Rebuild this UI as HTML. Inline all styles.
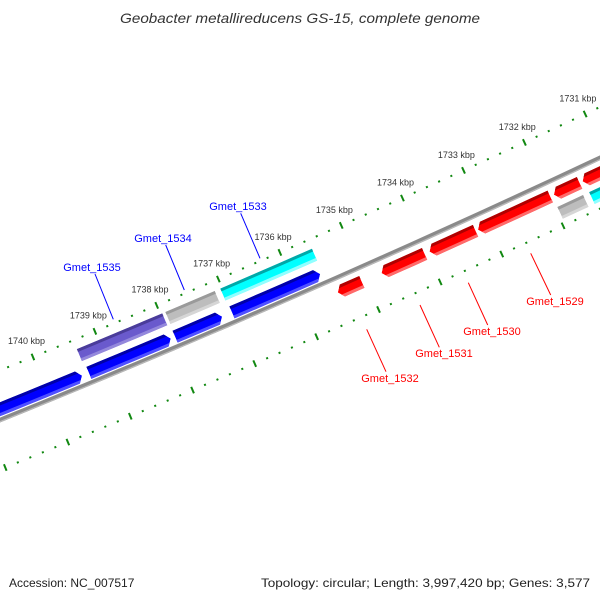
<!DOCTYPE html>
<html>
<head>
<meta charset="utf-8">
<style>
  html,body{margin:0;padding:0;background:#fff;}
  svg{display:block;}
  text{font-family:"Liberation Sans","DejaVu Sans",sans-serif;}
</style>
</head>
<body>
<svg id="map" width="600" height="600" viewBox="0 0 600 600" xmlns="http://www.w3.org/2000/svg">
  <rect x="0" y="0" width="600" height="600" fill="#ffffff"/>
  <defs id="defs"></defs>
  <text x="300" y="23" text-anchor="middle" font-size="14" font-style="italic" fill="#333" textLength="360" lengthAdjust="spacingAndGlyphs">Geobacter metallireducens GS-15, complete genome</text>
  <g id="rulers"></g>
  <g id="backbone"></g>
  <g id="genes"></g>
  <g id="kbplabels"></g>
  <g id="genelabels">
    <line x1="240.7" y1="213.3" x2="260" y2="258.3" stroke="#0000ff" stroke-width="1"/>
    <text x="238" y="210" text-anchor="middle" font-size="11" fill="#0000ff">Gmet_1533</text>
    <line x1="165.7" y1="245" x2="184.3" y2="290" stroke="#0000ff" stroke-width="1"/>
    <text x="163" y="242" text-anchor="middle" font-size="11" fill="#0000ff">Gmet_1534</text>
    <line x1="95" y1="274" x2="113.3" y2="319.3" stroke="#0000ff" stroke-width="1"/>
    <text x="92" y="271" text-anchor="middle" font-size="11" fill="#0000ff">Gmet_1535</text>
    <line x1="530.7" y1="253.3" x2="550.7" y2="295" stroke="#ff0000" stroke-width="1"/>
    <text x="555" y="305" text-anchor="middle" font-size="11" fill="#ff0000">Gmet_1529</text>
    <line x1="468.3" y1="282.7" x2="487.7" y2="325" stroke="#ff0000" stroke-width="1"/>
    <text x="492" y="335" text-anchor="middle" font-size="11" fill="#ff0000">Gmet_1530</text>
    <line x1="420" y1="305" x2="439.3" y2="347.3" stroke="#ff0000" stroke-width="1"/>
    <text x="444" y="357" text-anchor="middle" font-size="11" fill="#ff0000">Gmet_1531</text>
    <line x1="366.7" y1="329.3" x2="386" y2="371.7" stroke="#ff0000" stroke-width="1"/>
    <text x="390" y="382" text-anchor="middle" font-size="11" fill="#ff0000">Gmet_1532</text>
  </g>
  <text x="9" y="587" font-size="12" fill="#222">Accession: NC_007517</text>
  <text x="590" y="587" text-anchor="end" font-size="12" fill="#222" textLength="329" lengthAdjust="spacingAndGlyphs">Topology: circular; Length: 3,997,420 bp; Genes: 3,577</text>
</svg>
<script>
// ---- data ----
var geneStartKbp = [1741.92, 1739.32, 1737.93, 1737.01, 1739.35, 1737.92, 1737.03, 1735.45, 1734.74, 1733.96, 1733.17, 1731.93, 1731.46, 1731.96, 1731.44];
var geneEndKbp   = [1739.43, 1738.00, 1737.17, 1735.58, 1737.97, 1737.12, 1735.54, 1735.06, 1734.04, 1733.21, 1731.99, 1731.51, 1729.73, 1731.54, 1729.73];
var geneRow      = [0, 0, 0, 0, 1, 1, 1, 2, 2, 2, 2, 2, 2, 3, 3];
var geneColor    = ['blue','blue','blue','blue','purple','gray','cyan','red','red','red','red','red','red','gray','cyan'];
var geneArrow    = [1, 1, 1, 1, 0, 0, 0, -1, -1, -1, -1, -1, -1, 0, 0];
var geneNames    = ['gene-a','gene-b','gene-c','gene-d','gmet-1535','gmet-1534','gmet-1533','gmet-1532','gmet-1531','gmet-1530','gmet-1529','gene-e','gene-f','gene-g','gene-h'];
var tickMinKbp = 1729;
var tickMaxKbp = 1743;
var labelKbp = [1731, 1732, 1733, 1734, 1735, 1736, 1737, 1738, 1739, 1740, 1741];

// ---- geometry ----
var NS = 'http://www.w3.org/2000/svg';
var RAD = 12000, CX = 300 - 0.4003 * RAD, CY = 294 - 0.9164 * RAD, PHI0 = Math.atan2(0.9164, 0.4003);
var REF_KBP = 1737, REF_S = -69.1, PX_PER_KBP = 67.3;
var rowD = [-10, -30, 14, 33], GENE_H = 13;
var palette = {
  blue:   ['#0000ff', '#0000a8', '#5050ff'],
  purple: ['#6a5acd', '#4a3c9a', '#9488dc'],
  gray:   ['#bdbdbd', '#9a9a9a', '#d6d6d6'],
  cyan:   ['#00ffff', '#00a8a8', '#90ffff'],
  red:    ['#ff0000', '#b00000', '#ff6a6a']
};
function sOf(k) { return REF_S - (k - REF_KBP) * PX_PER_KBP; }
function pt(s, d) {
  var a = PHI0 - s / RAD;
  return [CX + (RAD + d) * Math.cos(a), CY + (RAD + d) * Math.sin(a)];
}
function P(p) { return p[0].toFixed(2) + ',' + p[1].toFixed(2); }
function edge(s0, s1, d) {
  var out = [], n = Math.max(2, Math.ceil(Math.abs(s1 - s0) / 20));
  for (var i = 0; i <= n; i++) out.push(pt(s0 + (s1 - s0) * i / n, d));
  return out;
}
function el(tag, attrs, parent) {
  var e = document.createElementNS(NS, tag);
  for (var k in attrs) e.setAttribute(k, attrs[k]);
  parent.appendChild(e);
  return e;
}

// ---- rulers ----
var rul = document.getElementById('rulers');
[-46, 46].forEach(function (rd) {
  var nSteps = Math.round((tickMaxKbp - tickMinKbp) / 0.2);
  for (var i = 0; i <= nSteps; i++) {
    var k = tickMinKbp + i * 0.2;
    var s = sOf(k);
    var major = (i % 5 === 0);
    var a = pt(s, rd - (major ? 3.5 : 1)), b = pt(s, rd + (major ? 3.5 : 1));
    var ln = el('line', {x1: a[0], y1: a[1], x2: b[0], y2: b[1], stroke: '#118811', 'stroke-width': 2}, rul);
    
    
  }
});

// ---- kbp labels ----
var kl = document.getElementById('kbplabels');
labelKbp.forEach(function (k) {
  var p = pt(sOf(k), -63);
  var t = el('text', {x: p[0], y: p[1] + 3, 'text-anchor': 'middle', 'font-size': 9, fill: '#333'}, kl);
  t.textContent = k + ' kbp';
  
  
});

// ---- backbone ----
var bb = document.getElementById('backbone');
var b1 = el('polyline', {points: edge(-420, 420, 0).map(P).join(' '), fill: 'none', stroke: '#8a8a8a', 'stroke-width': 4.5}, bb);


var b2 = el('polyline', {points: edge(-420, 420, 1.6).map(P).join(' '), fill: 'none', stroke: '#b8b8b8', 'stroke-width': 1.3}, bb);



// ---- genes ----
var gg = document.getElementById('genes');
var defs = document.getElementById('defs');
for (var gi = 0; gi < geneStartKbp.length; gi++) {
  var sa = sOf(geneStartKbp[gi]), sb = sOf(geneEndKbp[gi]);
  var s0 = Math.min(sa, sb), s1 = Math.max(sa, sb);
  var dc = rowD[geneRow[gi]], dTop = dc - GENE_H / 2, dBot = dc + GENE_H / 2;
  var tip = 5, pts;
  if (geneArrow[gi] === 1) {
    pts = edge(s0, s1 - tip, dTop).concat([pt(s1, dc)]).concat(edge(s1 - tip, s0, dBot));
  } else if (geneArrow[gi] === -1) {
    pts = [pt(s0, dc)].concat(edge(s0 + tip, s1, dTop)).concat(edge(s1, s0 + tip, dBot));
  } else {
    pts = edge(s0, s1, dTop).concat(edge(s1, s0, dBot));
  }
  var ptsStr = pts.map(P).join(' ');
  var cols = palette[geneColor[gi]];
  var cp = el('clipPath', {id: 'clip' + gi}, defs);
  el('polygon', {points: ptsStr}, cp);
  var g = el('g', {'clip-path': 'url(#clip' + gi + ')'}, gg);
  
  
  var body = el('polygon', {points: ptsStr, fill: cols[0]}, g);
  
  
  var dark = el('polygon', {points: edge(s0 - 2, s1 + 2, dTop - 2).concat(edge(s1 + 2, s0 - 2, dTop + 3)).map(P).join(' '), fill: cols[1]}, g);
  
  
  var light = el('polygon', {points: edge(s0 - 2, s1 + 2, dBot - 3).concat(edge(s1 + 2, s0 - 2, dBot + 2)).map(P).join(' '), fill: cols[2]}, g);
  
  
}
</script>
</body>
</html>
